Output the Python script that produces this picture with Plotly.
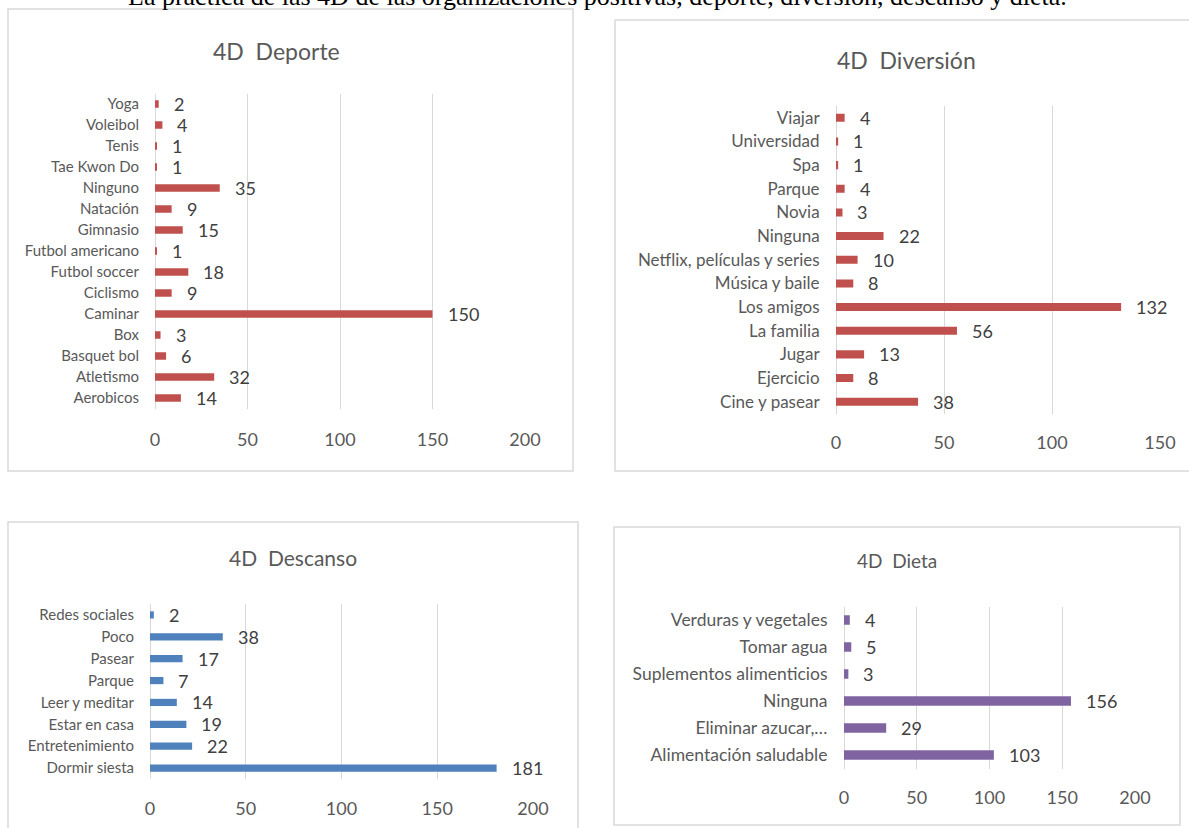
import plotly.graph_objects as go

W, H = 1189, 828

# ---------------- data ----------------
deporte_cats = ["Aerobicos", "Atletismo", "Basquet bol", "Box", "Caminar", "Ciclismo",
                "Futbol soccer", "Futbol americano", "Gimnasio", "Natación", "Ninguno",
                "Tae Kwon Do", "Tenis", "Voleibol", "Yoga"]
deporte_vals = [14, 32, 6, 3, 150, 9, 18, 1, 15, 9, 35, 1, 1, 4, 2]

diversion_cats = ["Cine y pasear", "Ejercicio", "Jugar", "La familia", "Los amigos",
                  "Música y baile", "Netflix, películas y series", "Ninguna", "Novia",
                  "Parque", "Spa", "Universidad", "Viajar"]
diversion_vals = [38, 8, 13, 56, 132, 8, 10, 22, 3, 4, 1, 1, 4]

descanso_cats = ["Dormir siesta", "Entretenimiento", "Estar en casa", "Leer y meditar",
                 "Parque", "Pasear", "Poco", "Redes sociales"]
descanso_vals = [181, 22, 19, 14, 7, 17, 38, 2]

dieta_cats = ["Alimentación saludable", "Eliminar azucar,…", "Ninguna",
              "Suplementos alimenticios", "Tomar agua", "Verduras y vegetales"]
dieta_vals = [103, 29, 156, 3, 5, 4]

x_ticks_200 = [0, 50, 100, 150, 200]
x_ticks_150 = [0, 50, 100, 150]

main_title = "La práctica de las 4D de las organizaciones positivas, deporte, diversión, descanso y dieta."
panel_titles = ["4D\u00a0 Deporte", "4D\u00a0 Diversión", "4D\u00a0 Descanso", "4D\u00a0 Dieta"]

# ---------------- style ----------------
RED = "#C0504D"
BLUE = "#4F81BD"
PURPLE = "#8064A2"
GRID = "#D9D9D9"
TXT = "#595959"
LBL = "#404040"
FONT = "Lato, 'Open Sans', sans-serif"

def px_x(p):
    return p / W

def px_y(p):
    return 1 - p / H

panels = [
    dict(cats=deporte_cats, vals=deporte_vals, color=RED, xr=[0, 200], ticks=x_ticks_200,
         xd=[155, 525], yd=[93.5, 408.5], bw=0.36, catsize=15, ticklen=15,
         title=panel_titles[0], tpos=(276, 51), tsize=23,
         box=(8, 9, 573, 471)),
    dict(cats=diversion_cats, vals=diversion_vals, color=RED, xr=[0, 150], ticks=x_ticks_150,
         xd=[836, 1160], yd=[106, 413.5], bw=0.34, catsize=17, ticklen=13,
         title=panel_titles[1], tpos=(906, 60), tsize=23,
         box=(615, 20, 1200, 471)),
    dict(cats=descanso_cats, vals=descanso_vals, color=BLUE, xr=[0, 200], ticks=x_ticks_200,
         xd=[150, 533], yd=[604, 779], bw=0.33, catsize=15, ticklen=13,
         title=panel_titles[2], tpos=(293, 557), tsize=21,
         box=(8, 522, 578, 840)),
    dict(cats=dieta_cats, vals=dieta_vals, color=PURPLE, xr=[0, 200], ticks=x_ticks_200,
         xd=[844, 1135], yd=[606.5, 768.5], bw=0.345, catsize=17.5, ticklen=13,
         title=panel_titles[3], tpos=(897, 560), tsize=19,
         box=(614, 527, 1180, 825)),
]

fig = go.Figure()
annotations = []
shapes = []
layout_axes = {}

for i, p in enumerate(panels, start=1):
    xa = "x" if i == 1 else f"x{i}"
    ya = "y" if i == 1 else f"y{i}"
    fig.add_trace(go.Bar(
        x=p["vals"], y=p["cats"], orientation="h",
        marker=dict(color=p["color"], line=dict(width=0)),
        width=p["bw"], xaxis=xa, yaxis=ya, showlegend=False, hoverinfo="x+y",
    ))
    xkey = "xaxis" if i == 1 else f"xaxis{i}"
    ykey = "yaxis" if i == 1 else f"yaxis{i}"
    layout_axes[xkey] = dict(
        domain=[px_x(p["xd"][0]), px_x(p["xd"][1])],
        range=p["xr"], anchor=ya, tickvals=p["ticks"],
        showgrid=True, gridcolor=GRID, gridwidth=1.3,
        zeroline=True, zerolinecolor=GRID, zerolinewidth=1.3,
        showline=False, ticks="outside", ticklen=p["ticklen"], tickcolor="rgba(0,0,0,0)",
        tickfont=dict(family=FONT, size=18, color=TXT), fixedrange=True, automargin=False,
    )
    layout_axes[ykey] = dict(
        domain=[px_y(p["yd"][1]), px_y(p["yd"][0])],
        anchor=xa, type="category", categoryorder="array", categoryarray=p["cats"],
        range=[-0.5, len(p["cats"]) - 0.5],
        showgrid=False, zeroline=False, showline=False,
        ticks="outside", ticklen=12, tickcolor="rgba(0,0,0,0)",
        tickfont=dict(family=FONT, size=p["catsize"], color=TXT), fixedrange=True,
        automargin=False,
    )
    for c, v in zip(p["cats"], p["vals"]):
        annotations.append(dict(
            x=v, y=c, xref=xa, yref=ya, text=str(v), showarrow=False,
            xanchor="left", yanchor="middle", xshift=13,
            font=dict(family=FONT, size=18, color=LBL),
        ))
    annotations.append(dict(
        x=px_x(p["tpos"][0]), y=px_y(p["tpos"][1]), xref="paper", yref="paper",
        text=p["title"], showarrow=False, xanchor="center", yanchor="middle",
        font=dict(family=FONT, size=p["tsize"], color=TXT),
    ))
    x0, y0, x1, y1 = p["box"]
    shapes.append(dict(
        type="rect", xref="paper", yref="paper",
        x0=px_x(x0), x1=px_x(x1), y0=px_y(y1), y1=px_y(y0),
        line=dict(color=GRID, width=1.5), fillcolor="rgba(0,0,0,0)", layer="below",
    ))

annotations.append(dict(
    x=px_x(597), y=1, xref="paper", yref="paper", text=main_title, showarrow=False,
    xanchor="center", yanchor="bottom", yshift=-13,
    font=dict(family="'Liberation Serif', 'Times New Roman', serif", size=26, color="#000000"),
))

fig.update_layout(
    width=W, height=H, margin=dict(l=0, r=0, t=0, b=0, pad=0), autosize=False,
    paper_bgcolor="white", plot_bgcolor="white",
    annotations=annotations, shapes=shapes, bargap=0.6,
    **layout_axes,
)

fig.write_html("out.html", config={"displayModeBar": False})
